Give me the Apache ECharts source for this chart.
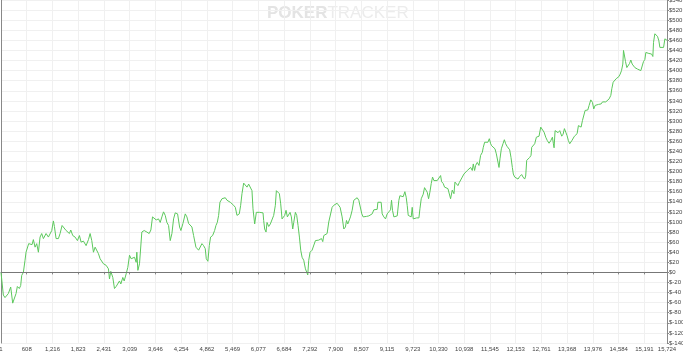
<!DOCTYPE html>
<html><head><meta charset="utf-8">
<script src="https://cdn.jsdelivr.net/npm/echarts@6/dist/echarts.min.js"></script>
<style>html,body{margin:0;padding:0;background:#fff}#c{width:683px;height:356px}</style>
</head><body><div id="c"></div>
<script>
// [hands played, cumulative winnings $]
const seg1 = [[1,0],[56,-45],[96,-50],[174,-42],[230,-29],[253,-32],[277,-61],[308,-62],[356,-42],[387,-28],[434,-32],[466,-26],[490,-6],[529,0],[568,24],[592,40],[623,37],[655,57],[702,60],[734,55],[765,65],[805,50],[844,57],[884,40],[923,70],[962,77],[1002,67],[1065,77],[1120,70],[1159,73],[1199,83],[1238,102],[1262,91],[1301,67],[1356,67],[1396,77],[1443,93],[1490,90],[1538,83],[1577,86],[1616,77],[1648,84],[1695,73],[1750,70],[1805,63],[1853,73],[1892,60],[1947,62],[2010,53],[2066,65],[2105,77],[2144,63],[2184,40],[2223,50],[2263,53],[2302,37],[2341,27],[2420,17],[2483,14],[2538,7],[2562,-13],[2593,2],[2640,-10],[2680,-32],[2719,-28],[2751,-26],[2798,-17],[2830,-23],[2877,-10],[2909,-17],[2956,-3],[2995,10],[3035,34],[3074,27],[3113,24],[3153,30],[3192,20],[3208,40],[3232,4],[3271,17],[3326,80],[3381,83],[3444,80],[3499,77],[3539,84],[3578,110],[3618,111],[3665,104],[3720,106],[3760,99],[3799,110],[3838,120],[3878,113],[3917,99],[3957,93],[3996,63],[4036,77],[4075,106],[4114,118],[4170,116],[4217,90],[4248,83],[4296,97],[4351,116],[4390,110],[4430,97],[4469,99],[4508,90],[4548,73],[4603,50],[4666,44]];
const seg2 = [[4705,47],[4745,57],[4784,53],[4823,47],[4847,27],[4886,22],[4918,53],[4949,70],[4997,73],[5044,83],[5076,93],[5107,99],[5139,113],[5170,139],[5218,146],[5257,143],[5296,148],[5336,143],[5375,144],[5415,139],[5454,137],[5493,133],[5533,129],[5572,113],[5596,110],[5627,116],[5659,133],[5690,156],[5730,177],[5769,175],[5808,169],[5848,175],[5887,172],[5926,162],[5950,126],[5990,96],[6029,119],[6068,116],[6108,119],[6147,116],[6187,118],[6202,103],[6226,86],[6258,80],[6281,99],[6321,91],[6360,96],[6400,93],[6439,113],[6478,133],[6502,162],[6533,159],[6573,156],[6604,136],[6636,106],[6667,103],[6699,113],[6730,123],[6762,110],[6793,113],[6825,119],[6856,110],[6888,86],[6912,99],[6951,119],[6982,113],[7014,93],[7046,70],[7077,44],[7109,30],[7148,24],[7188,7],[7219,10],[7243,-5],[7266,24],[7298,40],[7345,44],[7385,45],[7424,63],[7463,60],[7503,64],[7542,63],[7566,67],[7597,61],[7621,73],[7660,70],[7700,77],[7739,100],[7778,103],[7818,129],[7857,133],[7897,136],[7936,137],[7975,136],[8007,129]];
const seg3 = [[8054,110],[8094,86],[8133,90],[8157,103],[8188,96],[8212,94],[8251,110],[8291,123],[8330,143],[8370,146],[8409,148],[8448,143],[8488,141],[8519,116],[8551,110],[8582,112],[8630,111],[8685,112],[8724,110],[8764,116],[8803,124],[8843,121],[8882,125],[8898,139],[8945,141],[8976,139],[9000,116],[9039,110],[9079,106],[9118,116],[9157,120],[9197,124],[9221,143],[9244,123],[9276,110],[9315,109],[9355,112],[9394,143],[9418,152],[9457,155],[9496,150],[9536,160],[9567,149],[9591,133],[9615,113],[9646,110],[9685,110],[9709,129],[9733,106],[9764,104],[9812,108],[9867,108],[9891,126],[9922,146],[9969,155],[10000,168],[10032,165],[10063,159],[10095,146],[10126,159],[10158,176],[10189,189],[10221,182],[10260,185],[10299,182],[10339,180],[10379,192],[10402,180],[10442,176],[10473,169],[10520,172],[10552,166],[10583,163],[10615,146],[10654,163],[10694,156],[10718,179],[10757,176],[10788,172],[10820,178],[10851,179],[10891,189],[10930,195],[10970,198],[11009,202],[11048,200],[11088,208],[11127,202],[11151,215],[11182,202],[11206,212],[11245,218],[11285,212],[11324,232],[11364,238],[11387,248],[11419,258],[11458,261],[11497,258],[11529,265]];
const seg4 = [[11561,255],[11585,251],[11616,248],[11663,245],[11695,235],[11726,232],[11758,208],[11781,225],[11813,245],[11852,255],[11884,263],[11915,255],[11947,250],[11978,247],[12010,243],[12041,228],[12073,208],[12096,195],[12128,189],[12167,192],[12207,185],[12246,190],[12293,194],[12325,189],[12364,185],[12388,191],[12412,222],[12443,225],[12483,228],[12514,232],[12530,248],[12569,251],[12601,255],[12640,268],[12664,268],[12703,270],[12743,288],[12782,285],[12822,278],[12861,268],[12900,261],[12940,256],[12979,261],[13019,268],[13042,255],[13058,247],[13082,281],[13113,282],[13152,277],[13192,281],[13239,270],[13271,274],[13302,285],[13334,278],[13365,271],[13397,261],[13428,255],[13476,261],[13507,264],[13539,270],[13570,270],[13602,275],[13633,291],[13665,294],[13696,288],[13728,301],[13759,304],[13791,321],[13822,324],[13854,322],[13885,331],[13925,342],[13964,337],[13995,324],[14027,331],[14066,328],[14106,333],[14137,336],[14169,334],[14201,338],[14240,341]];
const seg5 = [[14279,338],[14319,341],[14358,344],[14398,351],[14421,364],[14453,377],[14492,378],[14524,384],[14555,381],[14587,388],[14618,393],[14650,400],[14681,413],[14697,440],[14713,433],[14744,418],[14776,406],[14807,409],[14839,414],[14870,421],[14902,413],[14933,416],[14965,406],[14996,407],[15028,403],[15067,401],[15106,400],[15138,399],[15169,418],[15201,422],[15225,436],[15264,433],[15296,434],[15327,432],[15359,433],[15390,428],[15406,456],[15437,473],[15469,470],[15500,468],[15532,459],[15556,446],[15595,447],[15643,446],[15674,463],[15705,460],[15724,460]];
const xTicks = [1,608,1216,1823,2431,3039,3646,4254,4862,5469,6077,6684,7292,7900,8507,9115,9723,10330,10938,11545,12153,12761,13368,13976,14584,15191,15724];
const yMin = -140, yMax = 540, yStep = 20;
const xName = 'Hands Played';
const watermarkBold = 'POKER', watermarkLight = 'TRACKER';

const data = seg1.concat(seg2, seg3, seg4, seg5);
const chart = echarts.init(document.getElementById('c'), null, {renderer: 'canvas'});
const lblFont = {fontSize: 6, color: '#444', fontFamily: 'Liberation Sans'};
chart.setOption({
  animation: false,
  grid: {left: 1, right: 16, top: 0, bottom: 13, containLabel: false, outerBoundsMode: 'none'},
  graphic: [{
    type: 'text', left: 267, top: 5, silent: true,
    style: {
      text: '{b|' + watermarkBold + '}{l|' + watermarkLight + '}',
      rich: {
        b: {fontSize: 17, fontWeight: 'bold', fill: '#e4e4e4', fontFamily: 'Liberation Sans'},
        l: {fontSize: 17, fontWeight: 'normal', fill: '#ececec', fontFamily: 'Liberation Sans Narrow, Liberation Sans'}
      }
    }
  }],
  xAxis: {
    type: 'value', min: 1, max: 15724,
    name: xName, nameLocation: 'middle', nameGap: 14,
    nameTextStyle: {fontSize: 7, color: '#777', fontFamily: 'Liberation Sans'},
    axisLine: {show: true, lineStyle: {color: '#888'}},
    axisTick: {show: true, length: 2, customValues: xTicks, lineStyle: {color: '#888'}},
    axisLabel: Object.assign({customValues: xTicks, margin: 3, showMinLabel: true, showMaxLabel: true,
      formatter: v => Math.round(v).toLocaleString('en-US')}, lblFont),
    splitLine: {show: true, lineStyle: {color: '#f0f0f0'}}
  },
  yAxis: [{
    type: 'value', min: yMin, max: yMax, interval: yStep, position: 'right',
    axisLine: {show: true, lineStyle: {color: '#888'}},
    axisTick: {show: true, length: 2, lineStyle: {color: '#888'}},
    axisLabel: Object.assign({margin: 2, formatter: v => '$' + v}, lblFont),
    splitLine: {show: true, lineStyle: {color: '#f0f0f0'}}
  }, {
    type: 'value', min: yMin, max: yMax, interval: yStep, position: 'left',
    axisLine: {show: true, lineStyle: {color: '#888'}},
    axisTick: {show: false}, axisLabel: {show: false}, splitLine: {show: false}
  }],
  series: [{
    type: 'line', data: data, showSymbol: false, symbol: 'none',
    lineStyle: {color: '#5cc85c', width: 1}, z: 3,
    markLine: {
      silent: true, symbol: 'none', label: {show: false},
      lineStyle: {color: '#777', width: 1, type: 'solid'},
      data: [{yAxis: 0}]
    }
  }]
});
</script></body></html>
